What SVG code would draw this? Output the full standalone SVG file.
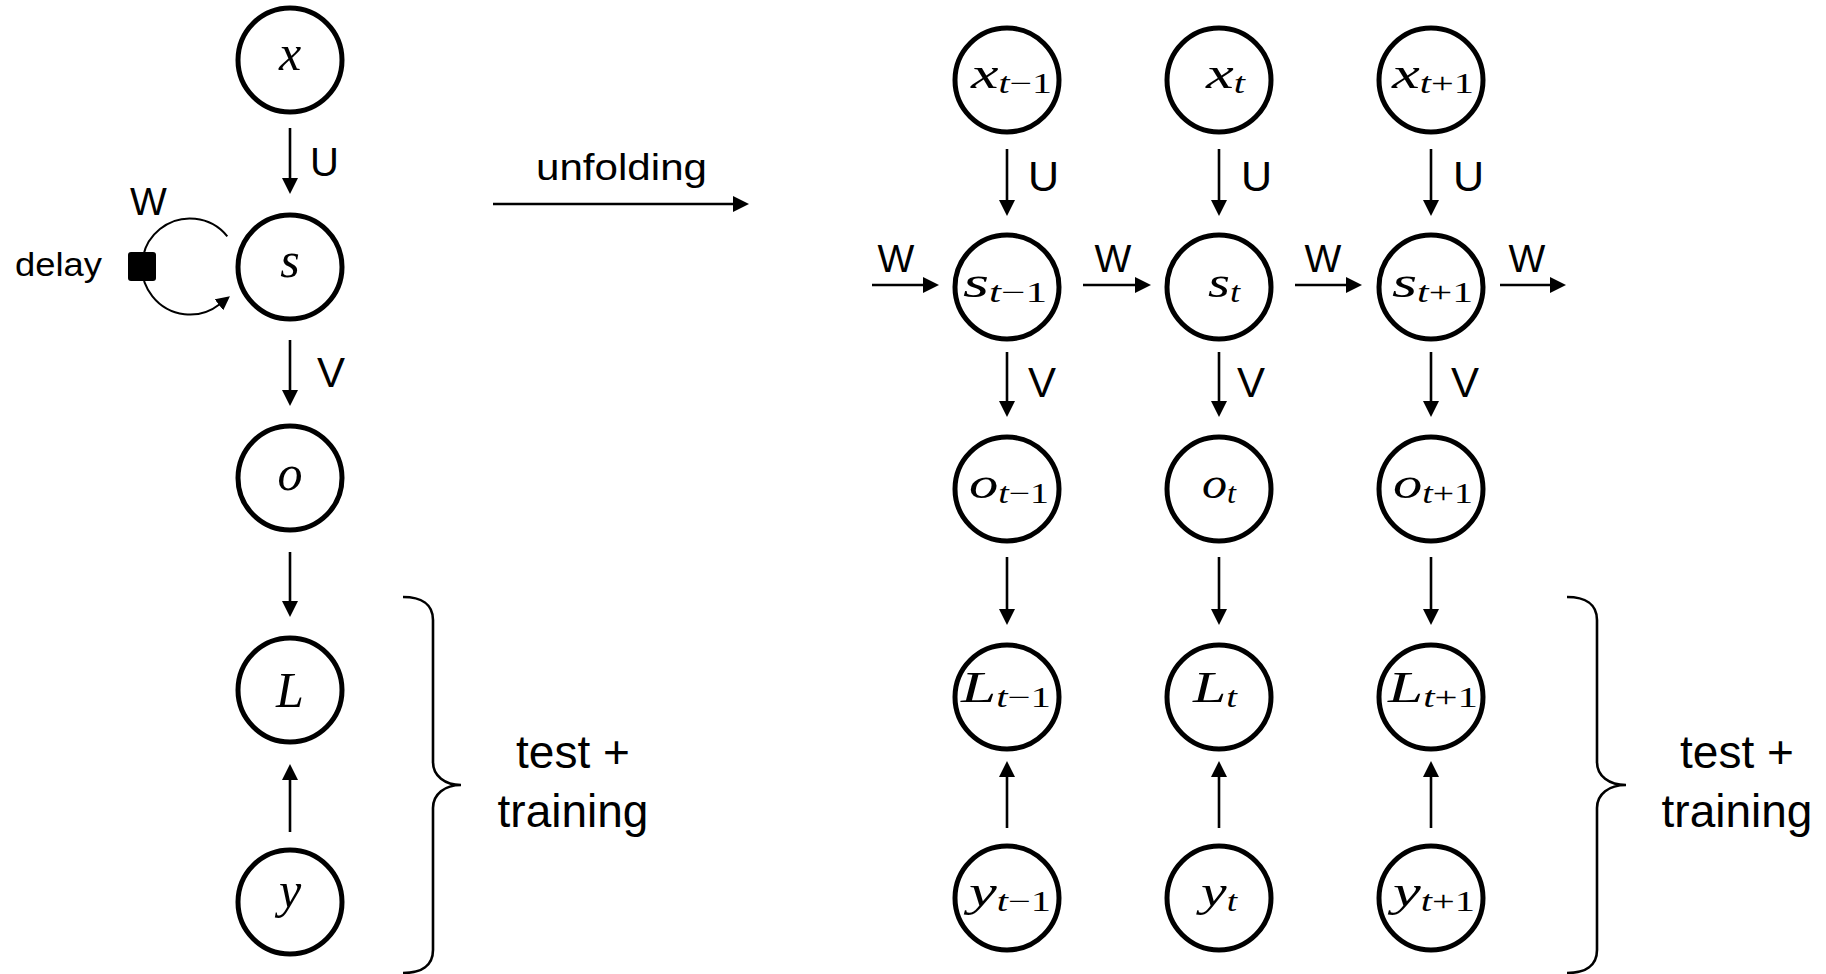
<svg xmlns="http://www.w3.org/2000/svg" width="1826" height="974" viewBox="0 0 1826 974">
<defs>
<style>
.bg{fill:#fff}
.node circle{fill:none;stroke:#000;stroke-width:5}
.conn line,.conn path{fill:none;stroke:#000;stroke-width:2.6}
.arr{marker-end:url(#ah)}
.lbl{font-family:"Liberation Sans",Arial,sans-serif;fill:#000}
.math{font-family:"Liberation Serif","Times New Roman",serif;font-style:italic;fill:#000}
.up{font-style:normal}
.big{font-size:50px}
.mn{font-size:45px}
.sb{font-size:29px}
.brace{fill:none;stroke:#000;stroke-width:2.6}
</style>
<marker id="ah" markerUnits="userSpaceOnUse" markerWidth="17" markerHeight="16" refX="1" refY="8" orient="auto"><path d="M0,0 L16,8 L0,16 z" fill="#000"/></marker>
<marker id="ah2" markerUnits="userSpaceOnUse" markerWidth="15" markerHeight="14" refX="1" refY="7" orient="auto"><path d="M0,0 L14,7 L0,14 z" fill="#000"/></marker>
</defs>
<rect class="bg" x="0" y="0" width="1826" height="974"/>

<!-- left folded network -->
<g id="n-x" class="node"><circle cx="290" cy="60" r="52"/><text class="math big" x="290" y="70" text-anchor="middle">x</text></g>
<g id="n-s" class="node"><circle cx="290" cy="267" r="52"/><text class="math big" x="290" y="277" text-anchor="middle">s</text></g>
<g id="n-o" class="node"><circle cx="290" cy="478" r="52"/><text class="math big" x="290" y="490" text-anchor="middle">o</text></g>
<g id="n-L" class="node"><circle cx="290" cy="690" r="52"/><text class="math big" x="290" y="707" text-anchor="middle">L</text></g>
<g id="n-y" class="node"><circle cx="290" cy="902" r="52"/><text class="math big" x="290" y="907" text-anchor="middle">y</text></g>
<g id="n-delay"><rect x="128" y="252" width="28" height="29" rx="3" fill="#000"/></g>

<!-- right unfolded network -->
<g id="n-x1" class="node"><circle cx="1007" cy="80" r="52"/><text class="math mn" x="971" y="88" textLength="81" lengthAdjust="spacingAndGlyphs">x<tspan class="sb" dy="5">t</tspan><tspan class="sb up">−1</tspan></text></g>
<g id="n-x2" class="node"><circle cx="1219" cy="80" r="52"/><text class="math mn" x="1206" y="88" textLength="39" lengthAdjust="spacingAndGlyphs">x<tspan class="sb" dy="5">t</tspan></text></g>
<g id="n-x3" class="node"><circle cx="1431" cy="80" r="52"/><text class="math mn" x="1392" y="88" textLength="82" lengthAdjust="spacingAndGlyphs">x<tspan class="sb" dy="5">t</tspan><tspan class="sb up">+1</tspan></text></g>

<g id="n-s1" class="node"><circle cx="1007" cy="287" r="52"/><text class="math mn" x="963" y="297" textLength="84" lengthAdjust="spacingAndGlyphs">s<tspan class="sb" dy="5">t</tspan><tspan class="sb up">−1</tspan></text></g>
<g id="n-s2" class="node"><circle cx="1219" cy="287" r="52"/><text class="math mn" x="1208" y="297" textLength="32" lengthAdjust="spacingAndGlyphs">s<tspan class="sb" dy="5">t</tspan></text></g>
<g id="n-s3" class="node"><circle cx="1431" cy="287" r="52"/><text class="math mn" x="1392" y="297" textLength="81" lengthAdjust="spacingAndGlyphs">s<tspan class="sb" dy="5">t</tspan><tspan class="sb up">+1</tspan></text></g>

<g id="n-o1" class="node"><circle cx="1007" cy="489" r="52"/><text class="math mn" x="969" y="498" textLength="80" lengthAdjust="spacingAndGlyphs">o<tspan class="sb" dy="5">t</tspan><tspan class="sb up">−1</tspan></text></g>
<g id="n-o2" class="node"><circle cx="1219" cy="489" r="52"/><text class="math mn" x="1202" y="498" textLength="34" lengthAdjust="spacingAndGlyphs">o<tspan class="sb" dy="5">t</tspan></text></g>
<g id="n-o3" class="node"><circle cx="1431" cy="489" r="52"/><text class="math mn" x="1393" y="498" textLength="80" lengthAdjust="spacingAndGlyphs">o<tspan class="sb" dy="5">t</tspan><tspan class="sb up">+1</tspan></text></g>

<g id="n-L1" class="node"><circle cx="1007" cy="697" r="52"/><text class="math mn" x="961" y="702" textLength="90" lengthAdjust="spacingAndGlyphs">L<tspan class="sb" dy="5">t</tspan><tspan class="sb up">−1</tspan></text></g>
<g id="n-L2" class="node"><circle cx="1219" cy="697" r="52"/><text class="math mn" x="1193" y="702" textLength="44" lengthAdjust="spacingAndGlyphs">L<tspan class="sb" dy="5">t</tspan></text></g>
<g id="n-L3" class="node"><circle cx="1431" cy="697" r="52"/><text class="math mn" x="1388" y="702" textLength="90" lengthAdjust="spacingAndGlyphs">L<tspan class="sb" dy="5">t</tspan><tspan class="sb up">+1</tspan></text></g>

<g id="n-y1" class="node"><circle cx="1007" cy="898" r="52"/><text class="math mn" x="969" y="906" textLength="82" lengthAdjust="spacingAndGlyphs">y<tspan class="sb" dy="5">t</tspan><tspan class="sb up">−1</tspan></text></g>
<g id="n-y2" class="node"><circle cx="1219" cy="898" r="52"/><text class="math mn" x="1201" y="906" textLength="36" lengthAdjust="spacingAndGlyphs">y<tspan class="sb" dy="5">t</tspan></text></g>
<g id="n-y3" class="node"><circle cx="1431" cy="898" r="52"/><text class="math mn" x="1393" y="906" textLength="82" lengthAdjust="spacingAndGlyphs">y<tspan class="sb" dy="5">t</tspan><tspan class="sb up">+1</tspan></text></g>

<!-- connectors -->
<g id="connectors" class="conn">
  <!-- left -->
  <line class="arr" x1="290" y1="128" x2="290" y2="179"/>
  <line class="arr" x1="290" y1="340" x2="290" y2="391"/>
  <line class="arr" x1="290" y1="552" x2="290" y2="602"/>
  <line class="arr" x1="290" y1="832" x2="290" y2="779"/>
  <path d="M227.3,236.3 A48,48 0 1 0 219.7,304.2" style="stroke-width:2;marker-end:url(#ah2)"/>
  <!-- unfolding -->
  <line class="arr" x1="493" y1="204" x2="734" y2="204"/>
  <!-- right U -->
  <line class="arr" x1="1007" y1="149" x2="1007" y2="201"/>
  <line class="arr" x1="1219" y1="149" x2="1219" y2="201"/>
  <line class="arr" x1="1431" y1="149" x2="1431" y2="201"/>
  <!-- right V -->
  <line class="arr" x1="1007" y1="352" x2="1007" y2="402"/>
  <line class="arr" x1="1219" y1="352" x2="1219" y2="402"/>
  <line class="arr" x1="1431" y1="352" x2="1431" y2="402"/>
  <!-- o to L -->
  <line class="arr" x1="1007" y1="557" x2="1007" y2="610"/>
  <line class="arr" x1="1219" y1="557" x2="1219" y2="610"/>
  <line class="arr" x1="1431" y1="557" x2="1431" y2="610"/>
  <!-- y to L -->
  <line class="arr" x1="1007" y1="828" x2="1007" y2="776"/>
  <line class="arr" x1="1219" y1="828" x2="1219" y2="776"/>
  <line class="arr" x1="1431" y1="828" x2="1431" y2="776"/>
  <!-- W -->
  <line class="arr" x1="872" y1="285" x2="924" y2="285"/>
  <line class="arr" x1="1083" y1="285" x2="1136" y2="285"/>
  <line class="arr" x1="1295" y1="285" x2="1347" y2="285"/>
  <line class="arr" x1="1500" y1="285" x2="1551" y2="285"/>
</g>

<!-- labels -->
<g id="labels" class="lbl">
  <text x="310" y="176" font-size="40">U</text>
  <text x="130" y="215" font-size="39">W</text>
  <text x="317" y="387" font-size="42">V</text>
  <text x="15" y="276" font-size="34" textLength="87" lengthAdjust="spacingAndGlyphs">delay</text>
  <text x="536" y="180" font-size="37" textLength="171" lengthAdjust="spacingAndGlyphs">unfolding</text>
  <text x="1028" y="191" font-size="43">U</text>
  <text x="1241" y="191" font-size="43">U</text>
  <text x="1453" y="191" font-size="43">U</text>
  <text x="1028" y="397" font-size="42">V</text>
  <text x="1237" y="397" font-size="42">V</text>
  <text x="1451" y="397" font-size="42">V</text>
  <text x="896" y="272" font-size="39" text-anchor="middle">W</text>
  <text x="1113" y="272" font-size="39" text-anchor="middle">W</text>
  <text x="1323" y="272" font-size="39" text-anchor="middle">W</text>
  <text x="1527" y="272" font-size="39" text-anchor="middle">W</text>
</g>

<!-- braces -->
<g id="brace-left">
  <path class="brace" d="M403,597 C421,597 433,604 433,620 L433,762 C433,776 445,785 461,785 C445,785 433,794 433,808 L433,950 C433,966 421,973 403,973"/>
  <text class="lbl" x="573" y="768" font-size="46" text-anchor="middle">test +</text>
  <text class="lbl" x="573" y="827" font-size="46" text-anchor="middle">training</text>
</g>
<g id="brace-right">
  <path class="brace" d="M1567,597 C1585,597 1597,604 1597,620 L1597,762 C1597,776 1609,785 1626,785 C1609,785 1597,794 1597,808 L1597,950 C1597,966 1585,973 1567,973"/>
  <text class="lbl" x="1737" y="768" font-size="46" text-anchor="middle">test +</text>
  <text class="lbl" x="1737" y="827" font-size="46" text-anchor="middle">training</text>
</g>
</svg>
